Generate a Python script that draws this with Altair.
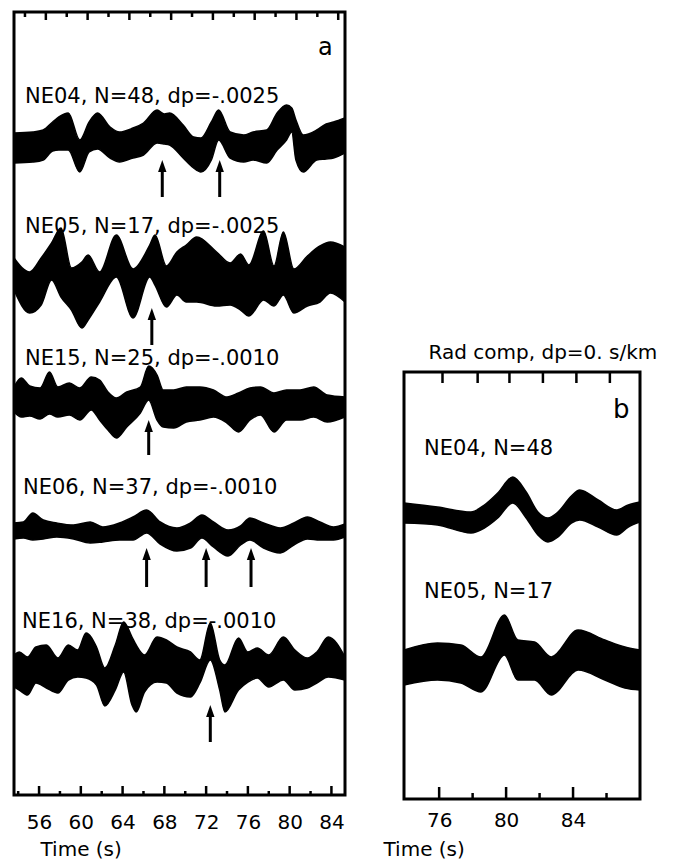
import altair as alt
import pandas as pd

FONT = "DejaVu Sans"
INK = "#000000"

# ---------------- panel a : stacked traces ----------------
A_DOMAIN = [53.6, 85.3]
A_VSPAN = 783
A_LABEL_TICKS = [56, 60, 64, 68, 72, 76, 80, 84]
A_MINOR_TICKS = [54, 58, 62, 66, 70, 74, 78, 82]
A_TOP_TALL = [56.65, 60.65, 64.65, 68.65, 72.65, 76.65, 80.65, 84.65]
A_TOP_SHORT = [54.65, 58.65, 62.65, 66.65, 70.65, 74.65, 78.65, 82.65]

stations_a = ["NE04", "NE05", "NE15", "NE06", "NE16"]
labels_a = ["NE04, N=48, dp=-.0025", "NE05, N=17, dp=-.0025", "NE15, N=25, dp=-.0010",
            "NE06, N=37, dp=-.0010", "NE16, N=38, dp=-.0010"]
offsets_a = [647, 520, 395, 265, 130]
label_t_a = [54.65, 54.65, 54.65, 54.46, 54.37]
label_amp_a = [45, 42, 35, 36, 37]

ne04_t = [53.6, 55.4, 56.4, 57.3, 57.9, 58.8, 59.9, 60.8, 61.6, 62.8, 63.7, 65.0, 66.0, 67.3, 68.0, 68.5,
          69.8, 70.8, 71.5, 72.5, 73.2, 74.3, 75.6, 76.5, 77.8, 78.8, 79.7, 80.2, 80.6, 81.3, 82.6, 83.5,
          84.2, 85.3]
ne04_up = [15, 16, 18, 26, 31, 35, 8, 26, 35, 21, 16, 20, 25, 38, 34, 35, 23, 11, 10, 26, 38, 16, 13, 16,
           18, 35, 43, 40, 28, 13, 18, 24, 26, 30]
ne04_lo = [-15, -14, -12, -3, -2, -2, -24, -4, -1, -10, -14, -10, -7, 5, 4, 3, -10, -20, -24, -12, 8, -10,
           -14, -12, -15, -2, 8, 16, -12, -24, -12, -11, -10, -5]

ne05_t = [53.6, 55.1, 56.2, 57.2, 58.1, 59.1, 60.1, 60.7, 61.8, 63.4, 65.0, 66.6, 67.1, 68.2, 69.2, 70.1,
          71.1, 73.0, 74.3, 75.3, 76.1, 77.5, 78.5, 79.4, 80.4, 81.7, 82.9, 83.9, 85.3]
ne05_up = [17, 3, 17, 32, 47, 7, 13, 20, 3, 40, 6, 30, 40, 9, 23, 30, 38, 23, 12, 21, 10, 44, 9, 43, 6,
           19, 29, 33, 28]
ne05_lo = [-15, -38, -30, -5, -22, -35, -53, -45, -27, -2, -43, -2, -10, -32, -20, -27, -27, -31, -30,
           -35, -41, -25, -31, -20, -38, -31, -27, -18, -27]

ne15_t = [53.6, 54.3, 55.1, 56.1, 57.0, 57.8, 58.9, 59.9, 61.0, 61.8, 62.6, 63.4, 64.4, 65.7, 66.5, 67.3,
          67.9, 68.9, 70.1, 71.4, 72.7, 74.0, 75.1, 76.2, 77.2, 78.5, 79.7, 81.0, 82.3, 83.6, 85.3]
ne15_up = [13, 22, 14, 12, 28, 13, 17, 12, 23, 20, 8, 2, 8, 13, 34, 25, 10, 10, 13, 13, 10, 3, 7, 12, 13,
           7, 10, 10, 13, 5, 3]
ne15_lo = [-12, -17, -16, -19, -14, -17, -15, -20, -10, -20, -30, -38, -27, -13, 0, -20, -27, -28, -22,
           -20, -17, -23, -32, -20, -15, -32, -20, -20, -17, -22, -17]

ne06_t = [53.6, 54.5, 55.4, 56.4, 57.7, 59.3, 60.9, 62.1, 63.7, 65.0, 66.3, 67.6, 69.2, 70.5, 71.6, 72.7,
          74.1, 75.3, 76.2, 77.5, 79.1, 80.4, 81.7, 82.9, 84.2, 85.3]
ne06_up = [7, 8, 17, 10, 7, 5, 8, 3, 7, 13, 20, 8, 2, 7, 15, 8, 0, 4, 12, 7, 2, 7, 13, 8, 3, 6]
ne06_lo = [-9, -8, -10, -9, -7, -9, -13, -12, -10, -10, -3, -14, -21, -18, -8, -17, -26, -15, -10, -18,
           -23, -15, -9, -10, -10, -7]

ne16_t = [53.6, 54.1, 54.9, 55.7, 56.7, 57.8, 58.8, 59.7, 60.5, 61.5, 62.3, 63.3, 64.1, 64.9, 65.3, 66.1,
          67.3, 68.2, 69.2, 70.5, 71.4, 72.4, 73.3, 73.8, 75.1, 76.0, 76.9, 78.0, 79.4, 80.5, 81.7, 82.6,
          83.7, 85.3]
ne16_up = [10, 13, 8, 18, 20, 7, 20, 15, 32, 18, -3, 20, 43, 28, 20, 10, 28, 25, 18, 13, 5, 42, 5, 0,
           27, 13, 17, 10, 28, 15, 7, 13, 28, 8]
ne16_lo = [-22, -25, -30, -18, -23, -28, -15, -12, -13, -20, -41, -25, -7, -40, -47, -27, -17, -18, -28,
           -32, -18, 5, -25, -47, -25, -17, -13, -22, -15, -25, -23, -18, -12, -15]

times_a = [ne04_t, ne05_t, ne15_t, ne06_t, ne16_t]
ups_a = [ne04_up, ne05_up, ne15_up, ne06_up, ne16_up]
los_a = [ne04_lo, ne05_lo, ne15_lo, ne06_lo, ne16_lo]

# arrows: times, tip and tail amplitude (relative to each trace)
arrow_times_a = [[67.8, 73.3], [66.8], [66.5], [66.3, 72.0, 76.3], [72.4]]
arrow_tip_a = [-12, -33, -20, -18, -40]
arrow_tail_a = [-49, -70, -55, -57, -77]

# ---------------- panel b ----------------
B_DOMAIN = [73.9, 88.0]
B_VSPAN = 787
B_LABEL_TICKS = [76, 80, 84]
B_MINOR_TICKS = [78, 82, 86]
B_TOP_TICKS = [76.2, 78.3, 80.2, 82.2, 84.2, 86.2]

stations_b = ["NE04", "NE05"]
labels_b = ["NE04, N=48", "NE05, N=17"]
offsets_b = [284, 134]
label_t_b = [75.1, 75.1]
label_amp_b = [60, 67]

b_ne04_t = [73.9, 75.9, 77.9, 78.7, 79.5, 80.4, 81.2, 81.9, 82.5, 83.1, 83.9, 84.4, 85.5, 86.6, 87.3, 88.0]
b_ne04_up = [12, 8, 3, 10, 22, 38, 23, 3, -3, 3, 19, 25, 15, 5, 10, 13]
b_ne04_lo = [-8, -10, -18, -13, -3, 12, -3, -20, -27, -22, -8, -5, -12, -20, -12, -7]

b_ne05_t = [73.9, 75.9, 77.3, 78.5, 79.9, 80.7, 81.7, 82.7, 84.3, 85.9, 87.1, 88.0]
b_ne05_up = [15, 22, 20, 8, 50, 25, 23, 8, 35, 25, 18, 15]
b_ne05_lo = [-20, -15, -18, -27, 10, -15, -15, -30, -5, -15, -23, -25]

times_b = [b_ne04_t, b_ne05_t]
ups_b = [b_ne04_up, b_ne05_up]
los_b = [b_ne04_lo, b_ne05_lo]

ARROW_HEAD = "M0,-1L0.7,1L-0.7,1Z"


def band_frame(names, offsets, times, ups, los):
    rows = []
    for name, off, ts, us, ls in zip(names, offsets, times, ups, los):
        for t, u, l in zip(ts, us, ls):
            rows.append({"station": name, "t": t, "up": off + u, "lo": off + l})
    return pd.DataFrame(rows)


def label_frame(texts, offsets, lt, la):
    return pd.DataFrame({"label": texts, "t": lt, "v": [o + a for o, a in zip(offsets, la)]})


def arrow_frame(names, offsets, times, tips, tails):
    rows = []
    for name, off, ts, tip, tail in zip(names, offsets, times, tips, tails):
        for t in ts:
            rows.append({"station": name, "t": t, "head": off + tip - 6, "tail": off + tail})
    return pd.DataFrame(rows)


def make_panel(domain, vspan, width, height, frame_top, label_ticks, minor_ticks, major_len, minor_len,
               top_tall, top_short, top_tall_len, top_short_len, band_df, label_df, arrow_df, extra_text,
               label_pad, title_x, title_y):
    xs = alt.Scale(domain=domain, nice=False, zero=False)
    ys = alt.Scale(domain=[0, vspan], nice=False, zero=False)
    X = alt.X("t:Q", scale=xs, title="Time (s)",
              axis=alt.Axis(values=label_ticks, ticks=False, tickSize=0, domain=False, grid=False,
                            labelFont=FONT, labelFontSize=20, labelColor=INK, labelPadding=label_pad,
                            labelFlush=False, labelOverlap=False,
                            titleFont=FONT, titleFontSize=20, titleFontWeight="normal", titleColor=INK,
                            titleAnchor="start", titleAlign="left", titleBaseline="alphabetic",
                            titleX=title_x, titleY=title_y))
    one = pd.DataFrame({"k": [0]})
    layers = []
    layers.append(alt.Chart(one).mark_rect(fillOpacity=0, stroke=INK, strokeWidth=3).encode(
        x=alt.value(0), x2=alt.value(width), y=alt.value(frame_top), y2=alt.value(height)))

    def ticks(vals, y0, y1):
        return alt.Chart(pd.DataFrame({"t": vals})).mark_rule(color=INK, strokeWidth=2.5).encode(
            x=X, y=alt.value(y0), y2=alt.value(y1))

    layers.append(ticks(label_ticks, height, height - major_len))
    layers.append(ticks(minor_ticks, height, height - minor_len))
    if top_tall:
        layers.append(ticks(top_tall, frame_top, frame_top + top_tall_len))
    if top_short:
        layers.append(ticks(top_short, frame_top, frame_top + top_short_len))

    layers.append(alt.Chart(label_df).mark_text(font=FONT, fontSize=21, align="left",
                                                baseline="alphabetic", color=INK).encode(
        x=X, y=alt.Y("v:Q", scale=ys, axis=None), text="label:N"))
    for txt_df, size, align in extra_text:
        layers.append(alt.Chart(txt_df).mark_text(font=FONT, fontSize=size, align=align,
                                                  baseline="alphabetic", color=INK).encode(
            x=X, y=alt.Y("v:Q", scale=ys, axis=None), text="label:N"))

    layers.append(alt.Chart(band_df).mark_area(color=INK, interpolate="monotone", clip=True,
                                               opacity=1, stroke=INK, strokeWidth=1.5).encode(
        x=X, y=alt.Y("up:Q", scale=ys, axis=None), y2="lo:Q", detail="station:N"))

    if arrow_df is not None:
        layers.append(alt.Chart(arrow_df).mark_rule(color=INK, strokeWidth=3).encode(
            x=X, y=alt.Y("head:Q", scale=ys, axis=None), y2="tail:Q"))
        layers.append(alt.Chart(arrow_df).mark_point(shape=ARROW_HEAD, size=144, filled=True,
                                                     color=INK, opacity=1, strokeWidth=0).encode(
            x=X, y=alt.Y("head:Q", scale=ys, axis=None)))
    return alt.layer(*layers).properties(width=width, height=height)


band_a = band_frame(stations_a, offsets_a, times_a, ups_a, los_a)
lab_a = label_frame(labels_a, offsets_a, label_t_a, label_amp_a)
arr_a = arrow_frame(stations_a, offsets_a, arrow_times_a, arrow_tip_a, arrow_tail_a)
letter_a = pd.DataFrame({"label": ["a"], "t": [82.72], "v": [740]})

band_b = band_frame(stations_b, offsets_b, times_b, ups_b, los_b)
lab_b = label_frame(labels_b, offsets_b, label_t_b, label_amp_b)
letter_b = pd.DataFrame({"label": ["b"], "t": [86.38], "v": [381]})
title_b = pd.DataFrame({"label": ["Rad comp, dp=0. s/km"], "t": [82.2], "v": [440]})

panel_a = make_panel(A_DOMAIN, A_VSPAN, 331, 783, 0, A_LABEL_TICKS, A_MINOR_TICKS, 9, 4,
                     A_TOP_TALL, A_TOP_SHORT, 8, 5, band_a, lab_a, arr_a,
                     [(letter_a, 24, "left")], 17, 26, 60)
panel_b = make_panel(B_DOMAIN, B_VSPAN, 236, 787, 360, B_LABEL_TICKS, B_MINOR_TICKS, 12, 6,
                     B_TOP_TICKS, [], 11, 0, band_b, lab_b, None,
                     [(letter_b, 26, "left"), (title_b, 20, "center")], 11, -21, 56)

chart = alt.hconcat(panel_a, panel_b, spacing=36).properties(
    padding={"left": 12, "top": 10, "right": 0, "bottom": 0},
    background="white",
).configure_view(stroke=None)

chart.save("out.html", embed_options={"renderer": "svg", "actions": False})
